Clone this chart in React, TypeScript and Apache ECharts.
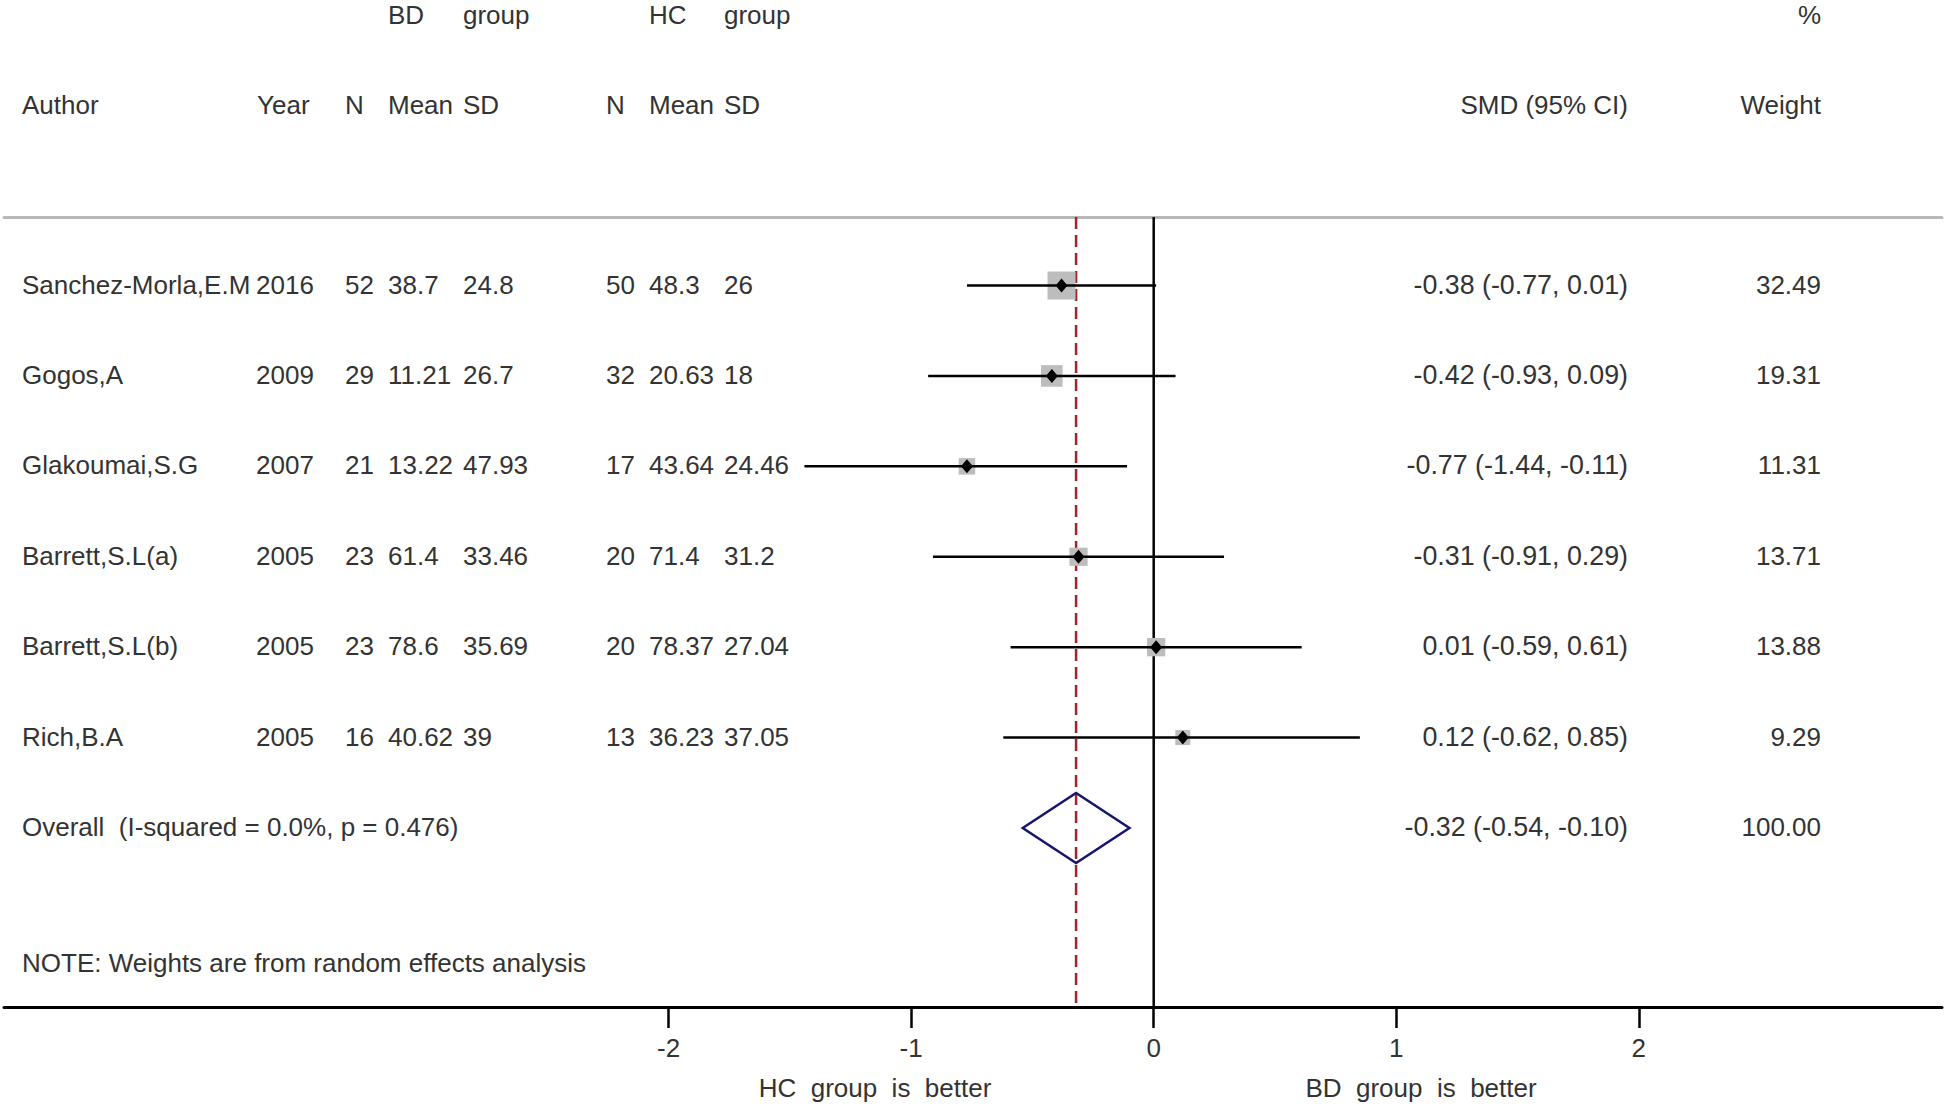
import React, { useEffect, useRef } from "react";
import * as echarts from "echarts";

// ---------------- data ----------------
const authors = ["Sanchez-Morla,E.M", "Gogos,A", "Glakoumai,S.G", "Barrett,S.L(a)", "Barrett,S.L(b)", "Rich,B.A"];
const years = [2016, 2009, 2007, 2005, 2005, 2005];
const bdN = [52, 29, 21, 23, 23, 16];
const bdMean = [38.7, 11.21, 13.22, 61.4, 78.6, 40.62];
const bdSD = [24.8, 26.7, 47.93, 33.46, 35.69, 39];
const hcN = [50, 32, 17, 20, 20, 13];
const hcMean = [48.3, 20.63, 43.64, 71.4, 78.37, 36.23];
const hcSD = [26, 18, 24.46, 31.2, 27.04, 37.05];
const smd = [-0.38, -0.42, -0.77, -0.31, 0.01, 0.12];
const ciLow = [-0.77, -0.93, -1.44, -0.91, -0.59, -0.62];
const ciHigh = [0.01, 0.09, -0.11, 0.29, 0.61, 0.85];
const weights = [32.49, 19.31, 11.31, 13.71, 13.88, 9.29];

const overallSmd = -0.32;
const overallLow = -0.54;
const overallHigh = -0.1;
const overallWeight = 100;
const overallLabel = "Overall  (I-squared = 0.0%, p = 0.476)";
const noteLabel = "NOTE: Weights are from random effects analysis";

const xTicks = [-2, -1, 0, 1, 2];
const leftFavours = "HC  group  is  better";
const rightFavours = "BD  group  is  better";

// ---------------- layout / style ----------------
const W = 1946;
const H = 1105;
const FONT_FAMILY = "'Liberation Sans', Arial, Helvetica, sans-serif";
const FONT_SIZE = 26;
const FONT = `${FONT_SIZE}px ${FONT_FAMILY}`;
const FONT_SMD = `26.8px ${FONT_FAMILY}`;
const TEXT_COLOR = "#333333";

const GRID_LEFT = 4;
const GRID_RIGHT = 4;
const GRID_TOP = 217;
const GRID_BOTTOM = 98;
const X_MIN = -4.74;
const X_MAX = 3.25;
const Y_MIN = -0.758;
const Y_MAX = 7.98;
const PX_MIN = GRID_LEFT;
const PX_MAX = W - GRID_RIGHT;
const ROW_OVERALL = 6;
const ROW_NOTE = 7.5;

const COL = {
  author: 22,
  year: 256,
  bdN: 345,
  bdMean: 388,
  bdSD: 463,
  hcN: 606,
  hcMean: 649,
  hcSD: 724,
  smdRight: 1628,
  weightRight: 1821,
};

const SQUARE_K = 28 / Math.sqrt(32.49);
const DIAMOND_HALF_H = 35;

const fmt2 = (v: number) => v.toFixed(2);

type TextItem = { x: number; row: number; text: string; align: "left" | "right" | "center"; font?: string };
const textItems: TextItem[] = [];
authors.forEach((a, i) => {
  textItems.push(
    { x: COL.author, row: i, text: a, align: "left" },
    { x: COL.year, row: i, text: String(years[i]), align: "left" },
    { x: COL.bdN, row: i, text: String(bdN[i]), align: "left" },
    { x: COL.bdMean, row: i, text: String(bdMean[i]), align: "left" },
    { x: COL.bdSD, row: i, text: String(bdSD[i]), align: "left" },
    { x: COL.hcN, row: i, text: String(hcN[i]), align: "left" },
    { x: COL.hcMean, row: i, text: String(hcMean[i]), align: "left" },
    { x: COL.hcSD, row: i, text: String(hcSD[i]), align: "left" },
    {
      x: COL.smdRight,
      row: i,
      text: `${fmt2(smd[i])} (${fmt2(ciLow[i])}, ${fmt2(ciHigh[i])})`,
      align: "right",
      font: FONT_SMD,
    },
    { x: COL.weightRight, row: i, text: fmt2(weights[i]), align: "right" }
  );
});
textItems.push(
  { x: COL.author, row: ROW_OVERALL, text: overallLabel, align: "left" },
  {
    x: COL.smdRight,
    row: ROW_OVERALL,
    text: `${fmt2(overallSmd)} (${fmt2(overallLow)}, ${fmt2(overallHigh)})`,
    align: "right",
    font: FONT_SMD,
  },
  { x: COL.weightRight, row: ROW_OVERALL, text: fmt2(overallWeight), align: "right" },
  { x: COL.author, row: ROW_NOTE, text: noteLabel, align: "left" }
);

const headerText = (text: string, x: number, y: number, align: string = "left") => ({
  type: "text",
  x,
  y,
  silent: true,
  style: {
    text,
    font: FONT,
    fill: TEXT_COLOR,
    align,
    verticalAlign: "middle",
  },
});

export default function App() {
  const ref = useRef<HTMLDivElement>(null);

  useEffect(() => {
    if (!ref.current) return;
    const chart = echarts.init(ref.current, undefined, { renderer: "svg", width: W, height: H });

    const studyData = smd.map((v, i) => [v, ciLow[i], ciHigh[i], i, weights[i]]);

    const option: any = {
      animation: false,
      backgroundColor: "#ffffff",
      grid: { left: GRID_LEFT, right: GRID_RIGHT, top: GRID_TOP, bottom: GRID_BOTTOM, containLabel: false },
      xAxis: [
        {
          type: "value",
          min: X_MIN,
          max: X_MAX,
          position: "bottom",
          axisLine: { show: true, onZero: false, lineStyle: { color: "#000000", width: 3 } },
          axisTick: {
            show: true,
            customValues: xTicks,
            length: 21,
            inside: false,
            lineStyle: { color: "#000000", width: 2.5 },
          },
          axisLabel: {
            show: true,
            customValues: xTicks,
            fontSize: FONT_SIZE,
            fontFamily: FONT_FAMILY,
            color: TEXT_COLOR,
            margin: 28,
          },
          splitLine: { show: false },
        },
        {
          type: "value",
          min: PX_MIN,
          max: PX_MAX,
          position: "top",
          axisLine: { show: true, onZero: false, lineStyle: { color: "#b8b8b8", width: 3 } },
          axisTick: { show: false },
          axisLabel: { show: false },
          splitLine: { show: false },
        },
      ],
      yAxis: {
        type: "value",
        min: Y_MIN,
        max: Y_MAX,
        inverse: true,
        show: false,
        splitLine: { show: false },
      },
      series: [
        {
          type: "custom",
          name: "reference lines",
          xAxisIndex: 0,
          yAxisIndex: 0,
          silent: true,
          data: [[0], [overallSmd]],
          renderItem: (params: any, api: any) => {
            const v = api.value(0);
            const p1 = api.coord([v, Y_MIN]);
            const p2 = api.coord([v, Y_MAX]);
            const dashed = params.dataIndex === 1;
            return {
              type: "line",
              shape: { x1: p1[0], y1: p1[1], x2: p2[0], y2: p2[1] },
              style: dashed
                ? { stroke: "#a3222c", lineWidth: 2.5, lineDash: [12, 6] }
                : { stroke: "#000000", lineWidth: 2.5 },
            };
          },
        },
        {
          type: "custom",
          name: "studies",
          xAxisIndex: 0,
          yAxisIndex: 0,
          silent: true,
          data: studyData,
          renderItem: (params: any, api: any) => {
            const row = api.value(3);
            const c = api.coord([api.value(0), row]);
            const lo = api.coord([api.value(1), row]);
            const hi = api.coord([api.value(2), row]);
            const side = SQUARE_K * Math.sqrt(api.value(4));
            const x = c[0];
            const y = c[1];
            return {
              type: "group",
              children: [
                {
                  type: "rect",
                  shape: { x: x - side / 2, y: y - side / 2, width: side, height: side },
                  style: { fill: "#bdbdbd" },
                },
                {
                  type: "line",
                  shape: { x1: lo[0], y1: y, x2: hi[0], y2: y },
                  style: { stroke: "#000000", lineWidth: 2.5 },
                },
                {
                  type: "polygon",
                  shape: {
                    points: [
                      [x - 6, y],
                      [x, y - 7],
                      [x + 6, y],
                      [x, y + 7],
                    ],
                  },
                  style: { fill: "#000000" },
                },
              ],
            };
          },
        },
        {
          type: "custom",
          name: "overall",
          xAxisIndex: 0,
          yAxisIndex: 0,
          silent: true,
          data: [[overallSmd, overallLow, overallHigh, ROW_OVERALL]],
          renderItem: (params: any, api: any) => {
            const row = api.value(3);
            const c = api.coord([api.value(0), row]);
            const lo = api.coord([api.value(1), row]);
            const hi = api.coord([api.value(2), row]);
            return {
              type: "polygon",
              shape: {
                points: [
                  [lo[0], c[1]],
                  [c[0], c[1] - DIAMOND_HALF_H],
                  [hi[0], c[1]],
                  [c[0], c[1] + DIAMOND_HALF_H],
                ],
              },
              style: { fill: "none", stroke: "#16166e", lineWidth: 2.5 },
            };
          },
        },
        {
          type: "custom",
          name: "table text",
          xAxisIndex: 1,
          yAxisIndex: 0,
          silent: true,
          data: textItems.map((t) => [t.x, t.row]),
          renderItem: (params: any, api: any) => {
            const it = textItems[params.dataIndex];
            const p = api.coord([api.value(0), api.value(1)]);
            return {
              type: "text",
              x: p[0],
              y: p[1] - 1,
              style: {
                text: it.text,
                font: it.font || FONT,
                fill: TEXT_COLOR,
                align: it.align,
                verticalAlign: "middle",
              },
            };
          },
        },
      ],
      graphic: [
        headerText("BD", COL.bdMean, 15),
        headerText("group", COL.bdSD, 15),
        headerText("HC", COL.hcMean, 15),
        headerText("group", COL.hcSD, 15),
        headerText("%", COL.weightRight, 15, "right"),
        headerText("Author", COL.author, 105),
        headerText("Year", 257, 105),
        headerText("N", COL.bdN, 105),
        headerText("Mean", COL.bdMean, 105),
        headerText("SD", COL.bdSD, 105),
        headerText("N", COL.hcN, 105),
        headerText("Mean", COL.hcMean, 105),
        headerText("SD", COL.hcSD, 105),
        headerText("SMD (95% CI)", COL.smdRight, 105, "right"),
        headerText("Weight", COL.weightRight, 105, "right"),
        headerText(leftFavours, 875, 1088, "center"),
        headerText(rightFavours, 1421, 1088, "center"),
      ],
    };

    chart.setOption(option);
    return () => {
      chart.dispose();
    };
  }, []);

  return (
    <div
      ref={ref}
      style={{ position: "fixed", left: 0, top: 0, width: W, height: H, background: "#ffffff" }}
    />
  );
}
